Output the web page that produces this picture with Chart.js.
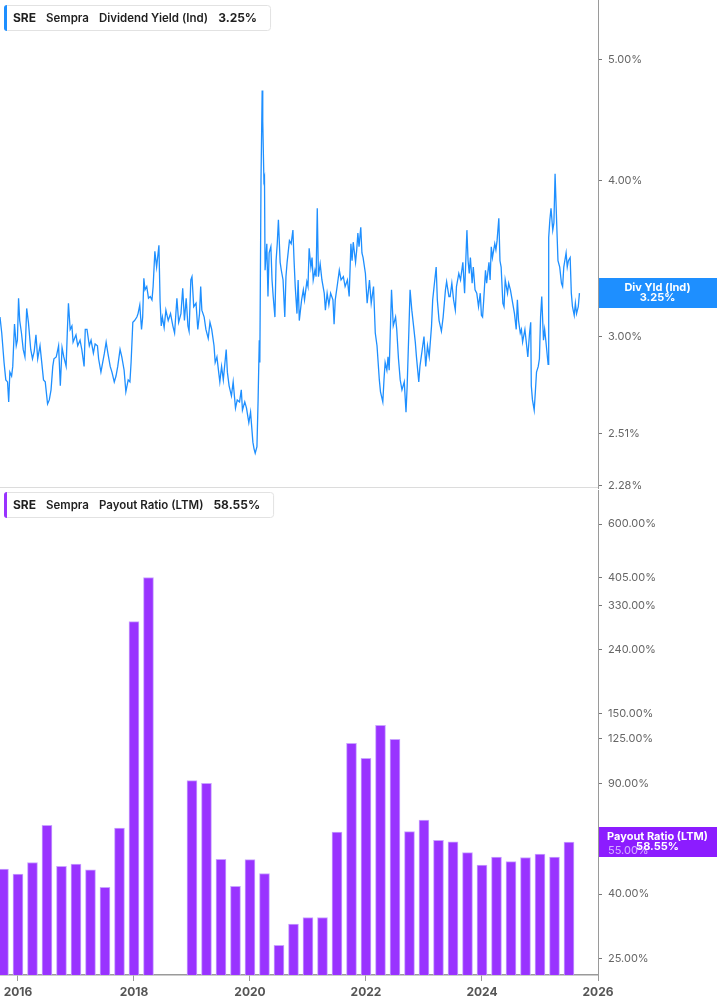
<!DOCTYPE html>
<html lang="en">
<head>
<meta charset="UTF-8">
<title>SRE Sempra - Dividend Yield and Payout Ratio</title>
<script src="https://cdn.jsdelivr.net/npm/chart.js@4/dist/chart.umd.min.js"></script>
<style>
  html, body { margin: 0; padding: 0; background: #fff; }
  #wrap { position: relative; width: 717px; height: 1005px; }
  #top { position: absolute; left: 0; top: 0; }
  #bottom { position: absolute; left: 0; top: 488px; }
</style>
</head>
<body>
<div id="wrap">
  <canvas id="top" width="717" height="500"></canvas>
  <canvas id="bottom" width="717" height="517"></canvas>
</div>

<script>
// ---- data ----
// dividend yield (%), dates as decimal years
const yieldDates = [
  2015.69, 2015.72, 2015.76, 2015.79, 2015.82, 2015.84, 2015.86, 2015.89, 2015.91, 2015.94, 2015.97, 2015.99,
  2016.01, 2016.03, 2016.06, 2016.09, 2016.12, 2016.15, 2016.18, 2016.22, 2016.25, 2016.28, 2016.31, 2016.34, 2016.38, 2016.41, 2016.44,
  2016.47, 2016.51, 2016.54, 2016.57, 2016.60, 2016.62, 2016.66, 2016.68, 2016.70, 2016.73, 2016.76, 2016.79, 2016.83, 2016.85, 2016.87,
  2016.90, 2016.93, 2016.95,
  2017.00, 2017.03, 2017.07, 2017.10, 2017.14, 2017.16, 2017.19, 2017.23, 2017.26, 2017.30, 2017.33, 2017.37, 2017.39, 2017.43, 2017.46,
  2017.49, 2017.52, 2017.55, 2017.59, 2017.62, 2017.66, 2017.69, 2017.72, 2017.76, 2017.79, 2017.83, 2017.86, 2017.90, 2017.93, 2017.95,
  2017.98,
  2018.01, 2018.05, 2018.07, 2018.10, 2018.13, 2018.15, 2018.17, 2018.19, 2018.22, 2018.25, 2018.28, 2018.31, 2018.33, 2018.36, 2018.39,
  2018.43, 2018.45, 2018.47, 2018.49, 2018.52, 2018.55, 2018.59, 2018.63, 2018.67, 2018.70, 2018.74, 2018.77, 2018.81, 2018.84, 2018.87,
  2018.90, 2018.93, 2018.95, 2018.98,
  2019.00, 2019.03, 2019.07, 2019.10, 2019.13, 2019.15, 2019.17, 2019.21, 2019.24, 2019.28, 2019.31, 2019.34, 2019.38, 2019.40, 2019.43,
  2019.46, 2019.48, 2019.51, 2019.54, 2019.59, 2019.61, 2019.64, 2019.68, 2019.71, 2019.75, 2019.78, 2019.82, 2019.85, 2019.87, 2019.91,
  2019.94, 2019.98,
  2020.01, 2020.05, 2020.07, 2020.09, 2020.12, 2020.14, 2020.16, 2020.17, 2020.19, 2020.21, 2020.22, 2020.24, 2020.25, 2020.26, 2020.29,
  2020.31, 2020.33, 2020.36, 2020.38, 2020.40, 2020.43, 2020.45, 2020.47, 2020.49, 2020.52, 2020.54, 2020.57, 2020.60, 2020.62, 2020.64,
  2020.68, 2020.71, 2020.74, 2020.76, 2020.78, 2020.81, 2020.83, 2020.85, 2020.89, 2020.92, 2020.94, 2020.98,
  2021.00, 2021.02, 2021.05, 2021.07, 2021.09, 2021.12, 2021.14, 2021.16, 2021.18, 2021.21, 2021.24, 2021.28, 2021.30, 2021.33, 2021.36,
  2021.39, 2021.43, 2021.45, 2021.47, 2021.51, 2021.54, 2021.57, 2021.61, 2021.64, 2021.68, 2021.71, 2021.74, 2021.76, 2021.78, 2021.82,
  2021.84, 2021.86, 2021.88, 2021.91, 2021.93, 2021.95, 2021.99,
  2022.02, 2022.06, 2022.09, 2022.13, 2022.16, 2022.19, 2022.23, 2022.25, 2022.29, 2022.31, 2022.33, 2022.36, 2022.38, 2022.40, 2022.44,
  2022.47, 2022.51, 2022.53, 2022.56, 2022.59, 2022.62, 2022.66, 2022.69, 2022.71, 2022.74, 2022.76, 2022.79, 2022.82, 2022.85, 2022.87,
  2022.91, 2022.93, 2022.97,
  2023.00, 2023.03, 2023.06, 2023.09, 2023.13, 2023.15, 2023.18, 2023.21, 2023.23, 2023.26, 2023.30, 2023.33, 2023.37, 2023.39, 2023.43,
  2023.45, 2023.48, 2023.51, 2023.54, 2023.56, 2023.60, 2023.63, 2023.67, 2023.70, 2023.74, 2023.76, 2023.78, 2023.80, 2023.83, 2023.85,
  2023.88, 2023.91, 2023.94, 2023.97, 2023.99,
  2024.01, 2024.03, 2024.06, 2024.08, 2024.12, 2024.14, 2024.16, 2024.18, 2024.22, 2024.24, 2024.26, 2024.29, 2024.31, 2024.33, 2024.36,
  2024.38, 2024.40, 2024.44, 2024.46, 2024.49, 2024.53, 2024.56, 2024.59, 2024.61, 2024.63, 2024.66, 2024.68, 2024.70, 2024.74, 2024.76,
  2024.79, 2024.82, 2024.84, 2024.85, 2024.87, 2024.90, 2024.92, 2024.94, 2024.97, 2024.99,
  2025.01, 2025.03, 2025.06, 2025.08, 2025.10, 2025.14, 2025.15, 2025.17, 2025.19, 2025.22, 2025.24, 2025.26, 2025.29, 2025.31, 2025.34,
  2025.37, 2025.39, 2025.41, 2025.45, 2025.47, 2025.49, 2025.52, 2025.54, 2025.56, 2025.59, 2025.61, 2025.63, 2025.66, 2025.68
];
const yieldValues = [
  3.11, 3.02, 2.86, 2.77, 2.76, 2.66, 2.81, 2.79, 2.84, 3.07, 2.95, 2.98,
  3.22, 3.09, 3.02, 2.93, 2.89, 3.16, 3.08, 2.93, 2.88, 2.92, 3.01, 2.88, 2.95, 2.86, 2.77,
  2.76, 2.65, 2.67, 2.72, 2.84, 2.88, 2.89, 2.92, 2.95, 2.74, 2.94, 2.89, 2.84, 3.02, 3.19,
  3.04, 3.06, 2.97,
  3.01, 2.95, 2.98, 2.93, 2.84, 3.04, 3.04, 2.95, 2.98, 2.91, 2.96, 2.95, 2.88, 2.81, 2.86,
  2.91, 2.97, 2.91, 2.84, 2.81, 2.76, 2.79, 2.84, 2.93, 2.89, 2.82, 2.71, 2.77, 2.76, 2.86,
  3.08,
  3.09, 3.11, 3.13, 3.18, 3.04, 3.11, 3.34, 3.27, 3.29, 3.22, 3.23, 3.21, 3.29, 3.51, 3.41,
  3.55, 3.20, 3.06, 3.11, 3.05, 3.15, 3.09, 3.13, 3.06, 3.02, 3.22, 3.08, 3.13, 3.28, 3.09,
  3.22, 3.06, 3.03, 3.33,
  3.35, 3.17, 3.19, 3.04, 3.13, 3.29, 3.15, 3.11, 3.04, 2.99, 3.08, 3.04, 2.95, 2.86, 2.89,
  2.81, 2.76, 2.84, 2.77, 2.93, 2.81, 2.74, 2.69, 2.76, 2.63, 2.67, 2.66, 2.72, 2.62, 2.66,
  2.63, 2.56,
  2.61, 2.47, 2.44, 2.42, 2.45, 2.67, 2.98, 2.86, 4.00, 4.72, 4.46, 4.00, 4.02, 3.39, 3.56,
  3.23, 3.50, 3.54, 3.33, 3.23, 3.11, 3.45, 3.56, 3.72, 3.44, 3.39, 3.33, 3.11, 3.35, 3.44,
  3.58, 3.56, 3.65, 3.45, 3.29, 3.13, 3.33, 3.09, 3.21, 3.27, 3.21, 3.32,
  3.29, 3.53, 3.41, 3.47, 3.33, 3.39, 3.35, 3.80, 3.35, 3.43, 3.33, 3.25, 3.15, 3.25, 3.18,
  3.25, 3.21, 3.07, 3.21, 3.31, 3.39, 3.33, 3.35, 3.29, 3.33, 3.23, 3.56, 3.45, 3.57, 3.44,
  3.52, 3.63, 3.54, 3.67, 3.50, 3.47, 3.37,
  3.19, 3.33, 3.19, 3.29, 3.02, 2.95, 2.77, 2.71, 2.66, 2.77, 2.86, 2.82, 2.89, 2.82, 3.27,
  3.06, 3.11, 3.04, 2.88, 2.77, 2.72, 2.76, 2.61, 2.74, 3.04, 3.27, 3.15, 3.06, 2.97, 2.89,
  2.76, 2.84, 2.93,
  3.00, 2.84, 2.95, 2.89, 3.06, 3.21, 3.31, 3.41, 3.21, 3.09, 3.03, 3.11, 3.27, 3.32, 3.23,
  3.23, 3.31, 3.21, 3.15, 3.29, 3.37, 3.33, 3.44, 3.25, 3.65, 3.45, 3.37, 3.47, 3.31, 3.41,
  3.27, 3.25, 3.17, 3.25, 3.12,
  3.11, 3.21, 3.39, 3.31, 3.44, 3.33, 3.54, 3.47, 3.56, 3.52, 3.58, 3.73, 3.45, 3.41, 3.19,
  3.17, 3.33, 3.25, 3.31, 3.27, 3.19, 3.13, 3.04, 3.21, 3.09, 3.02, 3.04, 2.97, 3.04, 2.98,
  2.89, 3.02, 3.08, 2.74, 2.67, 2.62, 2.71, 2.81, 2.84, 2.88,
  3.11, 3.23, 2.98, 3.04, 2.98, 2.85, 3.60, 3.72, 3.80, 3.65, 3.70, 4.05, 3.67, 3.45, 3.41,
  3.31, 3.29, 3.41, 3.50, 3.41, 3.45, 3.47, 3.25, 3.17, 3.12, 3.19, 3.13, 3.17, 3.25
];

// payout ratio (LTM, %), one bar per quarter end; null = not shown
const payoutQuarters = [
  2015.75, 2016.00, 2016.25, 2016.50, 2016.75, 2017.00, 2017.25, 2017.50, 2017.75, 2018.00,
  2018.25, 2018.50, 2018.75, 2019.00, 2019.25, 2019.50, 2019.75, 2020.00, 2020.25, 2020.50,
  2020.75, 2021.00, 2021.25, 2021.50, 2021.75, 2022.00, 2022.25, 2022.50, 2022.75, 2023.00,
  2023.25, 2023.50, 2023.75, 2024.00, 2024.25, 2024.50, 2024.75, 2025.00, 2025.25, 2025.50
];
const payoutValues = [
  48.0, 46.3, 50.4, 66.2, 49.0, 49.8, 47.8, 42.0, 64.8, 294.0,
  406.0, null, null, 91.8, 90.0, 51.6, 42.3, 51.5, 46.5, 27.5,
  32.1, 33.7, 33.7, 63.0, 120.6, 108.1, 137.6, 124.2, 63.2, 68.7,
  59.3, 58.6, 54.2, 49.5, 52.4, 50.7, 52.3, 53.6, 52.4, 58.55
];

// axis ticks
const yieldTicks = [2.28, 2.51, 3.00, 4.00, 5.00];
const payoutTicks = [25, 40, 55, 90, 125, 150, 240, 330, 405, 600];
const yearTicks = [2016, 2018, 2020, 2022, 2024, 2026];

// ---- look ----
const FONT = 'Inter, "Noto Sans", sans-serif';
const BLUE = '#1e8fff';
const PURPLE = '#9933ff';
const AXIS_W = 119;      // right axis width -> plot ends at x=598
const X_MIN = 2015.69, X_MAX = 2026;

// legend box in the top-left corner of each panel
function drawLegendBox(ctx, top, accent, parts) {
  const x = 4, h = 25, gap = 10;
  ctx.save();
  const widths = parts.map(p => { ctx.font = p.f + ' ' + FONT; return ctx.measureText(p.t).width; });
  const w = 9 + widths.reduce((a, b) => a + b, 0) + gap * (parts.length - 1) + 13;
  ctx.fillStyle = '#fff';
  ctx.strokeStyle = '#e2e2e2';
  ctx.lineWidth = 1;
  ctx.beginPath();
  ctx.roundRect(x + 0.5, top + 0.5, w, h, 3);
  ctx.fill();
  ctx.stroke();
  ctx.fillStyle = accent;
  ctx.beginPath();
  ctx.roundRect(x, top, 3, h + 1, [3, 0, 0, 3]);
  ctx.fill();
  ctx.fillStyle = '#1f1f1f';
  ctx.textBaseline = 'middle';
  let cx = x + 9;
  parts.forEach((p, i) => {
    ctx.font = p.f + ' ' + FONT;
    ctx.fillText(p.t, cx, top + h / 2 + 1);
    cx += widths[i] + gap;
  });
  ctx.restore();
}

// coloured last-value tag on the right axis
function tagBox(chart, value, color) {
  const ctx = chart.ctx, y = chart.scales.y.getPixelForValue(value);
  const left = chart.chartArea.right + 1;
  ctx.save();
  ctx.fillStyle = color;
  ctx.fillRect(left, Math.round(y - 15), chart.width - left, 30);
  ctx.restore();
}
function tagText(chart, value, line1, line2) {
  const ctx = chart.ctx, y = chart.scales.y.getPixelForValue(value);
  const cx = (chart.chartArea.right + chart.width) / 2;
  ctx.save();
  ctx.fillStyle = '#fff';
  ctx.font = 'bold 11px ' + FONT;
  ctx.textAlign = 'center';
  ctx.textBaseline = 'middle';
  ctx.fillText(line1, cx, y - 5.5);
  ctx.fillText(line2, cx, y + 5);
  ctx.restore();
}

function rightAxis(ticks, min, max) {
  return {
    type: 'logarithmic', position: 'right', min: min, max: max,
    afterBuildTicks: s => { s.ticks = ticks.map(v => ({ value: v })); },
    afterFit: s => { s.width = AXIS_W; s.paddingTop = 0; s.paddingBottom = 0; },
    grid: { drawOnChartArea: false, tickLength: 4, color: '#777' },
    border: { color: '#9a9a9a', width: 1 },
    ticks: {
      autoSkip: false, padding: 6,
      callback: v => Number(v).toFixed(2) + '%',
      color: '#666', font: { family: FONT, size: 11 }
    }
  };
}

// ---- top: dividend yield line ----
const yieldLast = yieldValues[yieldValues.length - 1];
new Chart(document.getElementById('top'), {
  type: 'line',
  data: {
    datasets: [{
      data: yieldDates.map((d, i) => ({ x: d, y: yieldValues[i] })),
      borderColor: BLUE, borderWidth: 1.3, pointRadius: 0, tension: 0
    }]
  },
  options: {
    responsive: false, animation: false,
    layout: { padding: { bottom: 12 } },   // plot ends at y=488, room left for the 2.28% label
    plugins: { legend: { display: false }, tooltip: { enabled: false } },
    scales: {
      x: { type: 'linear', min: X_MIN, max: X_MAX, display: false },
      y: rightAxis(yieldTicks, 2.270, 5.577)
    }
  },
  plugins: [{
    id: 'decor',
    afterDatasetsDraw: c => tagBox(c, yieldLast, BLUE),
    afterDraw: c => {
      const ctx = c.ctx;
      ctx.save();
      ctx.strokeStyle = '#dcdcdc';
      ctx.lineWidth = 1;
      ctx.beginPath();
      ctx.moveTo(0, c.chartArea.bottom - 0.5);
      ctx.lineTo(c.chartArea.right, c.chartArea.bottom - 0.5);
      ctx.stroke();
      ctx.restore();
      tagText(c, yieldLast, 'Div Yld (Ind)', yieldLast.toFixed(2) + '%');
      drawLegendBox(ctx, 5, BLUE, [
        { t: 'SRE', f: 'bold 12px' }, { t: 'Sempra', f: '600 11.5px' },
        { t: 'Dividend Yield (Ind)', f: '600 11.5px' }, { t: yieldLast.toFixed(2) + '%', f: 'bold 12px' }
      ]);
    }
  }]
});

// ---- bottom: payout ratio bars ----
const payoutLast = payoutValues[payoutValues.length - 1];
const payoutAxis = rightAxis(payoutTicks, 22.12, 770.5);
payoutAxis.ticks.z = 1;  // labels over the value tag, as in the reference
payoutAxis.ticks.color = t => (t.tick && t.tick.value === 55) ? 'rgba(225,200,255,0.85)' : '#666';

new Chart(document.getElementById('bottom'), {
  type: 'bar',
  data: {
    datasets: [{
      data: payoutQuarters.map((q, i) => ({ x: q, y: payoutValues[i] })),
      backgroundColor: PURPLE,
      borderColor: '#c9a3ff',
      borderWidth: 1,
      borderSkipped: 'bottom',
      barThickness: 10
    }]
  },
  options: {
    responsive: false, animation: false,
    layout: { padding: { top: 2 } },
    plugins: { legend: { display: false }, tooltip: { enabled: false } },
    scales: {
      x: {
        type: 'linear', min: X_MIN, max: X_MAX, offset: false,
        afterBuildTicks: s => { s.ticks = yearTicks.map(v => ({ value: v })); },
        afterFit: s => { s.height = 30; s.paddingLeft = 0; s.paddingRight = 0; },
        grid: { drawOnChartArea: false, offset: false, tickLength: 6, color: '#999' },
        border: { color: '#9a9a9a', width: 1.5 },
        ticks: {
          autoSkip: false, maxRotation: 0, padding: 4,
          callback: v => String(v),
          color: '#555', font: { family: FONT, size: 12, weight: 'bold' }
        }
      },
      y: payoutAxis
    }
  },
  plugins: [{
    id: 'decor',
    afterDatasetsDraw: c => tagBox(c, payoutLast, '#8c1cff'),
    afterDraw: c => {
      tagText(c, payoutLast, 'Payout Ratio (LTM)', payoutLast.toFixed(2) + '%');
      drawLegendBox(c.ctx, 4, PURPLE, [
        { t: 'SRE', f: 'bold 12px' }, { t: 'Sempra', f: '600 11.5px' },
        { t: 'Payout Ratio (LTM)', f: '600 11.5px' }, { t: payoutLast.toFixed(2) + '%', f: 'bold 12px' }
      ]);
    }
  }]
});
</script>
</body>
</html>
